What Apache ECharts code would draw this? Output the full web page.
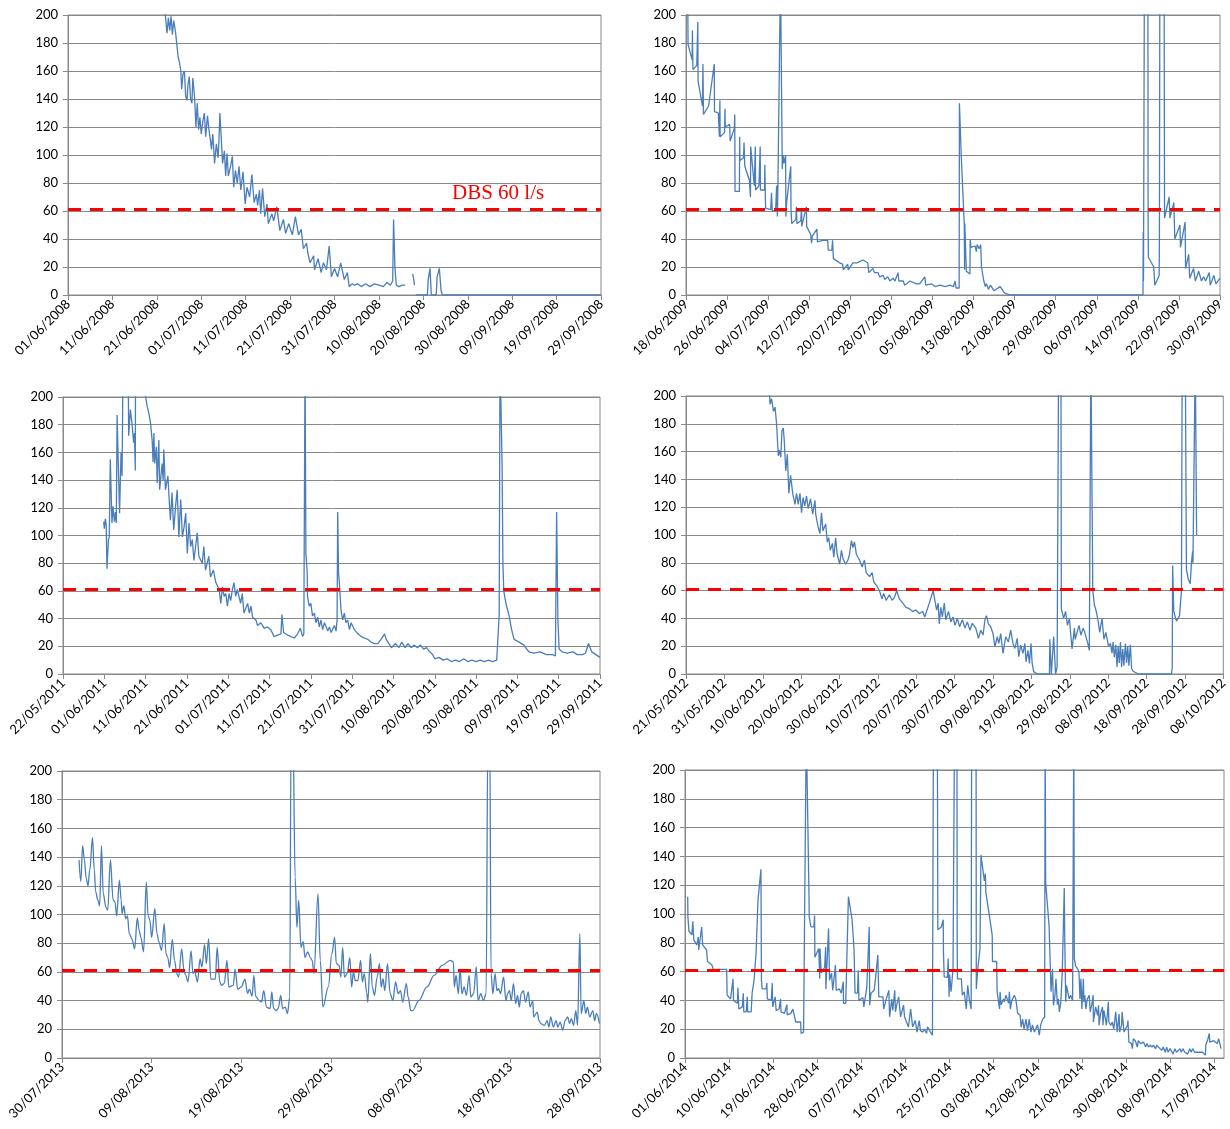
<!DOCTYPE html>
<html><head><meta charset="utf-8">
<script src="https://cdn.jsdelivr.net/npm/echarts@6/dist/echarts.min.js"></script>
<style>html,body{margin:0;padding:0;background:#fff}#c{width:1230px;height:1129px}</style>
</head><body><div id="c"></div>
<script>
// ---- data (x = days since the panel's start date, y = flow l/s) ----
const startDates = ['2008-06-01','2009-06-18','2011-05-22','2012-05-21','2013-07-30','2014-06-01'];
const axisMaxDays = [120,104,130,140,60,110];
const tickStepDays = [10,8,10,10,10,9];
const yTickValues = [0,20,40,60,80,100,120,140,160,180,200];
const dbsLevel = 61;
const dbsLabel = 'DBS 60 l/s';

const flow2008 = [[21.6,215],[22.0,197],[22.3,187],[22.6,198],[22.9,189],[23.2,199],[23.5,186],[23.8,196],[24.2,188],[24.5,179],[24.8,170],[25.1,166],[25.4,160],[25.6,147],[25.9,158],[26.2,160],[26.5,142],[26.8,139],[27.0,150],[27.3,156],[27.6,140],[27.9,137],[28.1,155],[28.4,145],[28.6,135],[28.8,120],[29.1,137],[29.4,118],[29.7,127],[30.0,115],[30.4,125],[30.7,130],[31.0,113],[31.4,128],[31.7,119],[32.0,112],[32.3,104],[32.6,115],[33.0,94],[33.4,108],[33.8,98],[34.0,112],[34.2,130],[34.5,112],[34.8,94],[35.2,103],[35.5,85],[35.8,101],[36.1,85],[36.6,92],[37.0,99],[37.3,77],[37.7,89],[38.1,80],[38.5,92],[38.9,75],[39.4,88],[39.9,65],[40.3,77],[40.9,70],[41.4,86],[41.9,66],[42.4,72],[42.7,64],[43.1,75],[43.4,58],[43.8,76],[44.3,56],[44.8,65],[45.1,51],[45.9,58],[46.3,53],[47.0,63],[47.7,46],[48.5,54],[49.0,44],[49.7,51],[50.5,43],[51.2,56],[51.9,43],[52.5,47],[53.0,33],[53.7,37],[54.0,30],[54.5,23],[55.3,28],[55.5,18],[56.3,26],[57.0,16],[57.5,23],[58.2,18],[58.8,35],[59.3,13],[60.0,19],[60.7,13],[61.4,23],[62.2,11],[62.9,16],[63.3,6],[64.0,8],[64.5,7],[65.2,8],[66.0,6],[67.0,8],[68.0,6],[69.0,8],[70.0,7],[71.0,6],[71.8,9],[72.6,7],[73.1,10],[73.3,54],[73.6,20],[73.9,7],[74.5,6],[75.2,7],[75.9,7],[76.0,null],[77.6,15],[77.8,12],[78.0,7],[78.1,null],[78.3,0],[80.9,0],[81.1,11],[81.5,19],[81.8,0],[82.9,0],[83.1,13],[83.6,19],[84.0,3],[84.3,0],[120,0]];

const flow2009 = [[0.3,230],[0.4,179],[1.2,168],[1.25,189],[1.35,161],[2.1,164],[2.3,195],[2.35,153],[3.2,135],[3.3,165],[3.4,129],[4.4,135],[4.7,136],[5.5,165],[5.55,131],[6.3,130],[6.5,113],[6.6,139],[6.65,113],[7.5,116],[7.6,133],[7.65,120],[8.5,122],[8.6,110],[9.4,119],[9.5,129],[9.55,74],[10.4,74],[10.45,113],[10.5,96],[11.2,98],[11.3,109],[11.45,92],[12.35,82],[12.55,70],[12.6,106],[13.3,78],[13.5,106],[13.55,75],[14.2,78],[14.45,106],[14.5,75],[15.3,75],[15.35,93],[15.5,62],[16.5,61],[16.65,73],[16.8,60],[17.45,60],[17.65,78],[17.8,56],[17.9,78],[18.4,230],[18.6,230],[18.75,90],[18.9,100],[19.1,94],[19.4,100],[19.45,56],[19.6,66],[20.4,92],[20.45,61],[20.6,51],[21.4,54],[21.5,63],[21.6,51],[22.35,53],[22.5,62],[22.55,49],[23.3,61],[23.45,63],[23.5,49],[24.3,43],[24.45,37],[24.6,42],[25.5,47],[25.6,38],[26.6,39],[27.6,39],[27.7,32],[28.4,32],[28.55,39],[28.7,26],[29.5,24],[29.9,23],[30.5,22],[30.65,18],[31.5,22],[31.6,18],[32.5,23],[33.3,23],[34.45,25],[35.4,23],[35.6,16],[36.4,19],[36.7,16],[37.4,16],[37.7,13],[38.4,14],[38.7,11],[39.3,13],[39.7,10],[40.3,12],[40.7,10],[41.3,16],[41.45,10],[42.3,10],[42.6,7],[43.6,10],[44.9,8],[45.5,8],[46.5,13],[46.7,7],[47.8,8],[48.5,6],[49.5,7],[50.5,6],[51.4,7],[52.1,6],[52.4,10],[52.6,5],[53.2,5],[53.25,137],[53.6,100],[54.2,50],[54.25,18],[54.3,51],[54.6,17],[55.3,15],[55.35,40],[55.5,34],[56.3,35],[56.55,31],[56.7,36],[57.1,33],[57.4,36],[57.55,20],[58.0,10],[58.3,6],[58.5,8],[58.9,4],[59.3,7],[60.0,3],[61.2,6],[61.9,2],[62.3,1],[63.2,0],[89.0,0],[89.05,45],[89.1,10],[89.3,260],[89.95,260],[90.0,50],[90.05,27],[91.1,20],[91.3,7],[92.15,14],[92.2,42],[92.3,260],[93.1,260],[93.2,55],[94.1,70],[94.25,55],[95.0,66],[95.2,40],[96.2,50],[96.3,34],[97.2,52],[97.3,19],[97.9,29],[98.1,12],[98.85,19],[99.2,10],[99.85,17],[100.4,10],[100.8,13],[101.2,10],[101.9,16],[102.1,7],[102.8,14],[103.2,8],[104.0,12]];

const flow2011 = [[9.85,110],[10.0,105],[10.25,112],[10.45,108],[10.65,76],[11.0,97],[11.2,99],[11.45,155],[11.85,109],[12.1,121],[12.45,110],[12.7,117],[12.9,109],[13.1,187],[13.4,150],[13.7,116],[14.05,160],[14.3,143],[14.5,215],[15.8,215],[15.9,172],[16.3,191],[16.7,181],[17.1,167],[17.3,174],[17.5,147],[17.55,215],[19.9,215],[20.0,200],[20.4,193],[20.8,188],[21.2,181],[21.6,168],[21.8,153],[22.0,174],[22.2,152],[22.6,164],[22.8,138],[23.2,169],[23.4,133],[24.0,152],[24.25,140],[24.4,162],[24.8,133],[25.4,143],[25.7,126],[26.0,111],[26.4,131],[26.8,104],[27.25,121],[27.65,133],[28.05,99],[28.5,126],[28.9,99],[29.3,106],[29.7,116],[30.1,87],[30.5,109],[30.9,92],[31.3,97],[31.7,82],[32.5,102],[32.9,85],[33.7,80],[34.1,92],[34.5,75],[35.3,85],[35.7,70],[36.4,75],[37.0,66],[37.8,61],[38.2,51],[38.6,63],[39.0,56],[39.4,58],[39.8,49],[40.2,58],[40.6,53],[41.0,61],[41.4,66],[41.8,56],[42.2,61],[43.0,51],[43.4,58],[43.8,44],[44.7,51],[45.1,44],[45.5,49],[45.9,41],[46.7,39],[47.1,35],[47.9,37],[48.7,33],[49.5,34],[50.3,32],[51.1,27],[51.9,28],[52.75,29],[53.0,43],[53.4,30],[54.4,28],[55.2,27],[56.0,26],[56.8,29],[57.45,33],[58.0,27],[58.3,29],[58.6,230],[58.8,87],[59.1,75],[59.2,56],[59.6,49],[60.0,51],[60.4,42],[60.85,44],[61.25,37],[61.65,41],[62.05,34],[62.45,39],[62.85,32],[63.3,37],[64.1,31],[64.5,34],[64.9,30],[65.7,35],[66.1,31],[66.35,39],[66.5,117],[66.7,73],[66.9,66],[67.3,46],[67.7,39],[68.1,44],[68.5,37],[68.9,39],[69.35,32],[69.75,37],[70.55,32],[71.4,29],[72.2,27],[73.0,26],[73.8,25],[74.6,23],[75.4,22],[76.2,22],[77.0,25],[77.85,29],[78.25,25],[78.7,26],[79.5,19],[80.5,22],[81.3,19],[82.0,23],[82.8,19],[83.5,22],[84.3,19],[85.0,21],[85.8,19],[86.5,21],[87.3,18],[88.0,19],[88.8,16],[89.5,14],[90.0,11],[91.0,12],[92.0,10],[93.0,11],[94.0,9],[95.0,10],[96.0,9],[97.0,11],[98.0,9],[99.0,10],[100.0,9],[101.0,10],[102.0,9],[103.0,10],[104.0,9],[105.0,10],[105.4,11],[105.6,43],[105.8,230],[106.1,230],[106.3,150],[106.5,80],[106.7,60],[107.3,50],[108.0,42],[108.6,32],[109.2,25],[110.4,23],[111.5,21],[112.8,16],[114.0,15],[115.5,16],[117.0,14],[118.5,14],[119.2,13],[119.5,117],[119.8,40],[120.1,18],[120.8,16],[122.0,15],[123.5,16],[124.5,14],[125.7,14],[126.5,15],[127.2,22],[128.0,16],[129.0,14],[130.0,12]];

const flow2012 = [[21.6,215],[21.9,194],[22.3,198],[22.8,189],[23.2,192],[23.6,180],[24.05,157],[24.3,161],[24.7,156],[25.0,175],[25.35,177],[25.6,168],[26.0,146],[26.4,158],[26.8,130],[27.25,143],[27.8,130],[28.4,122],[28.8,130],[29.25,122],[29.7,130],[30.1,116],[30.5,127],[30.95,121],[31.4,128],[31.85,119],[32.45,126],[33.0,115],[33.6,125],[33.8,115],[34.4,106],[34.9,101],[35.3,116],[35.7,103],[36.4,108],[36.8,95],[37.2,98],[37.6,89],[38.15,94],[38.5,84],[39.0,98],[39.4,86],[40.05,79],[40.5,89],[40.9,83],[41.6,79],[42.2,82],[42.6,86],[43.1,96],[43.5,91],[43.9,95],[44.4,86],[44.8,85],[45.2,82],[45.9,77],[46.5,82],[46.95,73],[47.8,70],[48.5,73],[48.95,66],[49.55,64],[50.4,60],[51.1,54],[51.5,58],[52.15,53],[53.0,57],[53.7,53],[54.3,55],[54.9,60],[55.6,54],[56.5,51],[57.3,48],[58.2,47],[59.1,45],[59.9,46],[60.8,43.5],[61.7,45],[62.2,41],[63.4,51],[64.4,60],[64.9,59],[65.3,46],[65.7,51],[66.0,36],[66.4,48],[66.8,41],[67.3,51],[67.7,39],[68.4,45],[69.0,37.5],[69.6,41],[70.1,35],[70.7,40],[71.3,34],[72.0,39],[72.7,33],[73.3,37.5],[74.0,31.5],[74.6,36.5],[75.5,33],[76.2,25.6],[76.8,31.5],[77.4,28],[77.9,39],[78.3,42],[78.8,36],[79.4,34],[80.0,29],[80.5,19.6],[81.1,26.8],[81.5,22],[82.0,29],[82.6,14.8],[83.3,26.8],[84.0,23],[84.6,31.5],[85.2,22],[85.7,18.4],[86.3,25.6],[86.7,12.4],[87.2,20.8],[87.8,14.8],[88.3,22],[88.6,8.8],[89.1,17],[89.5,7.6],[89.9,22],[90.2,7.6],[90.6,1.7],[91.5,0],[94.7,0],[94.8,25],[95.2,0],[95.7,0],[95.8,27],[96.3,0],[96.7,5],[97.1,230],[97.7,230],[97.8,47],[98.4,40],[98.9,45],[99.4,35],[99.9,40],[100.2,30],[100.6,18],[101.2,33],[101.4,25],[101.9,30],[102.4,35],[102.9,28],[103.5,33],[103.9,30],[104.7,22],[105.1,17],[105.5,230],[105.9,230],[106.0,60],[106.4,50],[106.9,45],[107.4,38],[107.8,30],[108.4,40],[108.9,25],[109.4,30],[110.1,20],[110.6,22],[111.0,15],[111.3,23],[111.6,12],[112.0,21],[112.3,5],[112.6,20],[112.9,8],[113.2,23],[113.5,5],[113.8,18],[114.1,6],[114.5,22],[114.8,8],[115.1,20],[115.4,6],[115.8,21],[116.1,4],[116.5,2],[117.9,0],[126.5,0],[126.7,5],[126.8,78],[127.1,45],[127.8,38],[128.6,42],[129.1,60],[129.3,230],[130.1,230],[130.4,75],[130.9,68],[131.4,65],[131.7,80],[132.0,88],[132.1,80],[132.7,230],[133.0,230],[133.05,100]];

const flow2013 = [[1.9,138],[2.1,123],[2.3,148],[2.5,138],[2.7,125],[2.9,120],[3.1,131],[3.4,153.5],[3.6,131],[3.75,116],[4.0,110],[4.2,106],[4.4,148],[4.6,114.5],[4.9,105],[5.1,103],[5.4,138],[5.7,110],[5.9,109],[6.1,99],[6.4,124],[6.6,110],[6.7,100.6],[6.9,106],[7.1,97],[7.3,99],[7.5,86.6],[7.8,83],[8.1,76],[8.4,97.6],[8.6,89],[8.8,84],[9.1,74],[9.4,122.6],[9.6,99.4],[9.8,96],[10.0,84],[10.35,104],[10.6,86.6],[10.8,81],[11.1,75],[11.4,93.6],[11.6,72.7],[11.8,70],[12.0,63],[12.3,82.7],[12.55,68],[12.8,58.8],[13.0,56.4],[13.35,76],[13.6,61],[13.8,57.6],[14.05,53],[14.4,74.6],[14.6,58.8],[14.8,60.6],[15.1,53],[15.4,69],[15.6,63.4],[15.9,79],[16.1,65.7],[16.35,83],[16.6,55],[17.1,55],[17.3,77],[17.6,53],[17.8,50.6],[18.1,52],[18.4,68],[18.6,49.5],[19.1,50.6],[19.3,62],[19.6,48],[20.0,49.5],[20.4,55],[20.7,45],[20.9,48],[21.2,43],[21.4,57.6],[21.6,43],[22.0,40],[22.25,39],[22.5,47],[22.8,35.5],[23.2,34.4],[23.4,46],[23.6,34.4],[23.9,33],[24.1,34.4],[24.4,43.7],[24.6,34.4],[24.9,35.5],[25.15,31],[25.4,42.5],[25.55,230],[25.75,230],[26.0,126],[26.2,91],[26.4,110],[26.65,77],[26.9,81],[27.1,70],[27.4,74],[27.7,70],[27.9,68],[28.1,59],[28.55,114.5],[28.8,68],[29.1,35.5],[29.7,49.5],[30.1,72.7],[30.4,84],[30.6,65.7],[30.9,64.6],[31.1,56.4],[31.3,77],[31.5,56.4],[31.8,58.8],[32.1,70],[32.3,49.5],[32.5,60],[32.7,54],[33.0,54],[33.3,68],[33.5,53],[33.7,58.8],[34.0,45],[34.1,39],[34.4,72.7],[34.6,49.5],[34.85,43.7],[35.15,56.4],[35.4,65.7],[35.6,49.5],[35.8,55.3],[36.0,47],[36.3,65.7],[36.6,44.8],[36.9,40],[37.2,53],[37.5,44.8],[37.75,47],[38.0,39],[38.4,51.8],[38.6,42.5],[38.9,33],[39.1,33],[39.8,40],[40.7,49.5],[41.5,57.6],[42.4,64.6],[43.3,68],[43.65,67],[43.75,49.5],[43.95,57.6],[44.2,44.8],[44.4,62],[44.6,44.8],[44.85,49.5],[45.1,43.7],[45.4,57.6],[45.6,42.5],[45.9,44.8],[46.2,63.4],[46.4,40],[46.7,44.8],[47.0,40],[47.3,44.8],[47.5,230],[47.7,230],[47.85,58.8],[48.05,44.8],[48.3,58.8],[48.5,47],[48.7,48.3],[48.9,44.8],[49.25,56.4],[49.5,40],[49.7,44.8],[49.9,47],[50.1,40],[50.35,51.8],[50.6,37.9],[50.8,43.7],[51.0,35.5],[51.2,44.8],[51.45,47],[51.7,39],[52.0,46],[52.2,35.5],[52.5,40],[52.6,28.6],[53.0,32],[53.2,26],[53.4,24],[53.8,22.8],[54.1,26],[54.3,21.6],[54.5,28.6],[54.8,21.6],[55.1,26],[55.3,21.6],[55.55,25],[55.85,19.3],[56.1,26],[56.4,28.6],[56.6,24],[56.8,27.4],[57.05,22.8],[57.3,33],[57.5,22.8],[57.75,86.6],[57.9,31],[58.2,40],[58.4,31],[58.6,35.5],[58.85,28.6],[59.2,33],[59.4,26],[59.6,31],[59.95,24]];

const flow2014 = [[0.55,112],[0.6,98],[0.8,88],[1.4,85.5],[1.6,95],[1.8,82],[2.4,78.5],[2.7,84],[2.8,75],[3.4,91],[3.6,78.5],[4.4,75],[4.6,67],[5.5,64.5],[5.8,61.5],[8.5,61.5],[8.6,43.7],[9.3,41],[9.7,41],[9.8,55],[9.9,40],[10.7,38],[10.8,49],[11.0,34],[11.7,35.5],[11.9,45],[12.0,32],[12.5,32],[12.7,42.5],[12.8,32],[13.5,32],[13.7,45],[14.1,54],[14.5,72.7],[14.9,110],[15.5,131],[15.6,54],[15.75,48],[16.55,48],[16.7,52],[16.8,41],[17.6,40],[17.8,52],[17.9,35.5],[18.4,42.5],[18.6,33],[19.2,34],[19.5,41],[19.6,32],[20.3,31],[20.8,37],[20.85,30],[21.6,31],[22.0,34],[22.2,31],[22.6,25],[23.6,25],[23.7,17],[24.2,18],[24.6,19],[24.75,230],[25.15,230],[25.3,114],[25.35,98],[25.7,91],[26.3,91],[26.45,99],[26.5,70],[27.3,76],[27.5,55],[27.55,76],[27.8,59],[28.5,63],[28.7,77],[28.75,48],[29.3,90],[29.5,54],[29.9,59],[30.15,47],[30.7,64.5],[30.85,47],[31.5,48],[31.9,45],[32.3,53],[32.35,38],[32.8,38],[33.1,36.7],[33.35,112],[34.1,96],[34.5,75],[34.7,45],[35.2,45],[35.35,61],[35.5,40],[36.3,42],[36.5,35.5],[36.7,40],[37.1,49],[37.6,91],[37.7,36.7],[37.95,45],[38.6,47],[38.9,56],[39.35,71.5],[39.55,42.5],[40.4,42.5],[40.55,34],[41.0,40],[41.6,47],[41.75,28.6],[42.2,41],[42.4,33],[42.8,47],[42.95,32],[43.2,36.7],[43.6,42.5],[44.0,28.6],[44.6,36.7],[44.8,28.6],[45.2,27.4],[45.6,21.6],[46.05,34],[46.45,21.6],[47.0,26],[47.35,18],[47.8,26],[48.05,19],[48.5,18],[48.85,20],[49.3,17],[49.5,21.6],[50.1,18],[50.5,15.8],[50.7,230],[51.5,230],[51.6,89],[52.3,91],[52.7,96],[52.75,72.7],[52.9,56.4],[53.55,56],[53.7,69],[53.9,42.5],[54.0,58],[54.3,46],[54.7,62],[55.0,230],[55.5,230],[55.55,79],[55.6,55],[56.4,55],[56.6,43.6],[57.0,46],[57.4,34],[57.7,50.5],[58.0,41],[58.4,34],[58.5,230],[59.4,230],[59.45,48],[59.7,60],[60.2,76],[60.4,141],[61.1,123],[61.3,128],[61.4,115],[61.8,106],[62.5,90],[62.7,85],[62.75,67],[63.1,68],[63.6,67],[63.7,46],[64.2,34],[64.3,46],[64.5,37],[65.0,41],[65.2,39],[65.5,43.6],[66.05,38],[66.2,46],[66.4,34],[66.7,40],[67.2,43.6],[67.5,41],[67.9,31],[68.4,29.7],[68.6,21.5],[68.9,27],[69.2,20],[69.6,27],[69.9,19],[70.25,27],[70.6,18],[70.9,23],[71.3,18],[71.95,23],[72.3,15.8],[72.6,23],[73.0,27],[73.4,28.5],[73.5,230],[73.55,230],[73.6,122],[74.3,92],[74.7,46],[75.0,62],[75.2,36.6],[75.5,43.6],[75.7,55],[76.0,37],[76.2,41],[76.4,32],[76.7,39],[77.0,60],[77.4,118],[77.5,83],[77.7,39],[77.85,50.5],[78.4,41],[78.7,43.6],[79.1,40],[79.35,230],[79.45,69],[79.7,64],[80.1,62],[80.4,60],[80.6,41],[80.8,55],[81.0,34],[81.3,55],[81.4,39],[81.6,43.6],[81.8,34],[82.1,41],[82.5,43.6],[82.7,32],[82.8,34],[83.0,36.6],[83.3,43.6],[83.35,25],[83.8,35.5],[84.2,29.7],[84.4,36.6],[84.5,22.7],[84.8,30.6],[85.2,35.5],[85.3,22.7],[85.5,33],[85.7,34],[86.0,22.7],[86.4,39],[86.5,25],[86.9,22.7],[87.2,25],[87.5,20],[87.9,32],[88.2,18],[88.6,30.6],[88.7,18],[89.1,22.7],[89.2,32],[89.6,18],[89.9,18],[90.3,22.7],[90.4,26],[90.6,11],[91.1,10],[91.3,6.5],[91.5,13.4],[91.9,12],[92.3,7.6],[92.5,12],[93.0,10],[93.3,9],[93.6,11],[94.0,7.6],[94.3,10],[94.6,7.6],[95.0,9],[95.3,7.6],[95.6,9],[96.0,6.5],[96.3,9],[96.6,7.6],[97.0,8.5],[97.3,5.3],[97.6,7.6],[98.0,4],[98.3,7.6],[98.6,4],[99.0,6.5],[99.3,5.3],[99.6,2.7],[100.0,6.5],[100.3,4],[101.0,6.5],[101.3,4],[101.6,6.5],[102.0,4],[102.3,5.3],[102.6,2.7],[103.0,6.5],[103.3,4],[103.6,6.5],[104.0,4],[104.3,5.3],[104.6,4],[105.0,4],[105.6,4],[106.2,2],[106.3,9],[106.7,13],[107.0,17],[107.1,11],[107.5,11],[107.9,12],[108.2,12],[108.6,10],[108.9,13.4],[109.2,14.6],[109.4,6.5]];

const flowSeries = [flow2008, flow2009, flow2011, flow2012, flow2013, flow2014];
const smoothFlags = [false,false,false,false,true,false];

// ---- layout (pixels) ----
const grids = [
  {left:68, top:15, width:533, height:280},
  {left:686, top:15, width:534, height:280},
  {left:63, top:397, width:537, height:277},
  {left:686, top:396, width:540, height:278},
  {left:62, top:771, width:538, height:287},
  {left:685, top:770, width:539, height:288}
];

const FONT = 'Lato';
const GRAY = '#898989';
const BLUE = '#4A7EBB';

function pad(n){return n<10?'0'+n:''+n;}
function makeFmt(s){
  const p = s.split('-').map(Number);
  const t0 = Date.UTC(p[0], p[1]-1, p[2]);
  return function(v){
    const d = new Date(t0 + Math.round(v)*86400000);
    return pad(d.getUTCDate())+'/'+pad(d.getUTCMonth()+1)+'/'+d.getUTCFullYear();
  };
}

const chart = echarts.init(document.getElementById('c'), null, {renderer:'canvas'});
const xAxes = [], yAxes = [], series = [];
grids.forEach((g,i)=>{
  const ticks = [];
  for (let v=0; v<=axisMaxDays[i]+1e-9; v+=tickStepDays[i]) ticks.push(v);
  xAxes.push({
    type:'value', gridIndex:i, min:0, max:axisMaxDays[i], interval:tickStepDays[i],
    axisLine:{show:true, onZero:false, lineStyle:{color:GRAY, width:1}},
    axisTick:{show:true, inside:false, length:5, lineStyle:{color:GRAY}, customValues:ticks},
    splitLine:{show:false},
    axisLabel:{show:true, rotate:45, margin:7, fontFamily:FONT, fontSize:13, color:'#000',
      formatter:makeFmt(startDates[i]), customValues:ticks, hideOverlap:false}
  });
  yAxes.push({
    type:'value', gridIndex:i, min:yTickValues[0], max:yTickValues[yTickValues.length-1], interval:yTickValues[1]-yTickValues[0],
    axisLine:{show:true, lineStyle:{color:GRAY, width:1}},
    axisTick:{show:true, inside:false, length:5, lineStyle:{color:GRAY}},
    splitLine:{show:true, lineStyle:{color:GRAY, width:1}},
    axisLabel:{show:true, margin:10, fontFamily:FONT, fontSize:13, color:'#000'}
  });
  series.push({
    type:'line', xAxisIndex:i, yAxisIndex:i, data:flowSeries[i],
    showSymbol:false, symbol:'none', connectNulls:false, clip:true,
    smooth: smoothFlags[i] ? 0.35 : false, smoothMonotone: smoothFlags[i] ? 'x' : undefined,
    lineStyle:{color:BLUE, width:1.3}, z:2, silent:true,
    markLine:{silent:true, symbol:'none', label:{show:false},
      lineStyle:{color:'#ff0000', width:3, type:[13,9]},
      data:[{yAxis:dbsLevel}], z:5, animation:false}
  });
});

chart.setOption({
  animation:false,
  backgroundColor:'#fff',
  grid: grids.map(g=>Object.assign({show:true, borderColor:GRAY, borderWidth:1, containLabel:false}, g)),
  xAxis:xAxes, yAxis:yAxes, series:series,
  graphic:[{type:'text', left:452, top:183, silent:true,
    style:{text:dbsLabel, fill:'#ff0000', font:'21px "Liberation Serif", "Times New Roman", serif'}}]
});
</script></body></html>
